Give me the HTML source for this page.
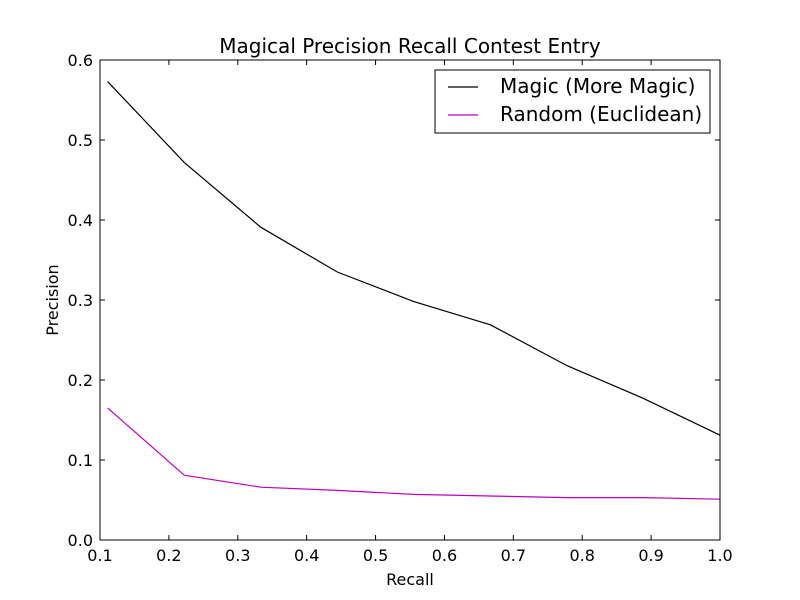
<!DOCTYPE html>
<html><head><meta charset="utf-8"><style>body{margin:0;background:#fff}svg{display:block}text{font-family:"DejaVu Sans","Liberation Sans",sans-serif}</style></head>
<body>
<svg id="chart" width="800" height="600" xmlns="http://www.w3.org/2000/svg">
<rect width="800" height="600" fill="#fff"/>
<g id="g"></g>
</svg>
<script>
const recall=[1/9,2/9,3/9,4/9,5/9,6/9,7/9,8/9,1];
const magic=[0.573,0.472,0.391,0.335,0.298,0.269,0.218,0.177,0.131];
const randomE=[0.165,0.081,0.066,0.062,0.057,0.055,0.053,0.053,0.051];
const xTicks=[0.1,0.2,0.3,0.4,0.5,0.6,0.7,0.8,0.9,1.0];
const yTicks=[0,0.1,0.2,0.3,0.4,0.5,0.6];
const L=100,R=720,T=60,B=540;
const sx=v=>L+(v-0.1)/0.9*(R-L);
const sy=v=>B-v/0.6*(B-T);
const g=document.getElementById('g');
const NS='http://www.w3.org/2000/svg';
function mk(tag,attrs,parent){const e=document.createElementNS(NS,tag);for(const k in attrs)e.setAttribute(k,attrs[k]);(parent||g).appendChild(e);return e;}
function line(pts,color,name){
  const e=mk('polyline',{points:pts.map(p=>p.join(',')).join(' '),fill:'none',stroke:color,'stroke-width':1.2});
  
  
}
line(recall.map((r,i)=>[sx(r),sy(magic[i])]),'#000','magic-series-line');
line(recall.map((r,i)=>[sx(r),sy(randomE[i])]),'#bf00bf','random-series-line');
const frame=mk('rect',{x:L,y:T,width:R-L,height:B-T,fill:'none',stroke:'#000','stroke-width':1});


xTicks.forEach(t=>{
  const x=sx(t);
  mk('line',{x1:x,x2:x,y1:B,y2:B-5,stroke:'#000'});
  mk('line',{x1:x,x2:x,y1:T,y2:T+5,stroke:'#000'});
  const tx=mk('text',{x:x,y:B+21,'font-size':16,'text-anchor':'middle'});
  tx.textContent=t.toFixed(1);
  
  
});
yTicks.forEach(t=>{
  const y=sy(t);
  mk('line',{x1:L,x2:L+5,y1:y,y2:y,stroke:'#000'});
  mk('line',{x1:R,x2:R-5,y1:y,y2:y,stroke:'#000'});
  const tx=mk('text',{x:L-7,y:y+6,'font-size':16,'text-anchor':'end'});
  tx.textContent=t.toFixed(1);
  
  
});
</script>
<svg style="position:absolute;left:0;top:0" width="800" height="600" xmlns="http://www.w3.org/2000/svg">
<text x="410" y="53" font-size="20" text-anchor="middle">Magical Precision Recall Contest Entry</text>
<text x="410" y="585" font-size="16" text-anchor="middle">Recall</text>
<text x="58" y="300" font-size="16" text-anchor="middle" transform="rotate(-90 58 300)">Precision</text>
<g>
<rect x="435" y="70" width="275" height="63" fill="#fff" stroke="#000"/>
<line x1="448" x2="478" y1="87" y2="87" stroke="#000" stroke-width="1.2"/>
<text x="500" y="93" font-size="20">Magic (More Magic)</text>
<line x1="448" x2="478" y1="115" y2="115" stroke="#bf00bf" stroke-width="1.2"/>
<text x="500" y="121" font-size="20">Random (Euclidean)</text>
</g>
</svg>
</body></html>
